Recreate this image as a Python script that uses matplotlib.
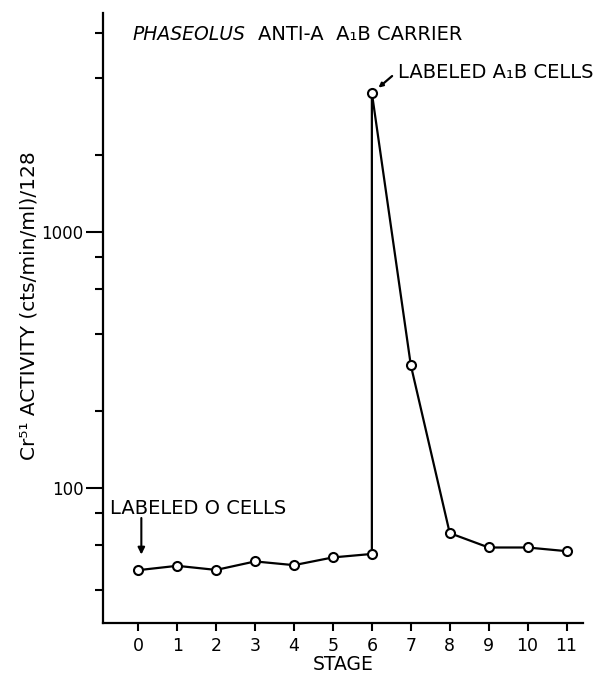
import matplotlib
matplotlib.use('Agg')
import matplotlib.pyplot as plt
from matplotlib.ticker import FixedLocator, NullFormatter, NullLocator

# Stage vs Cr51 activity (the A1B cells are added at stage 6, so 6 shows twice)
stages = [0, 1, 2, 3, 4, 5, 6, 6, 7, 8, 9, 10, 11]
activity = [47.8, 49.7, 47.9, 51.7, 50.0, 53.6, 55.3, 3490, 302, 66.7, 58.6, 58.6, 56.7]

x_ticks = list(range(12))
y_major = [100, 1000]
y_minor = [40, 60, 80, 200, 400, 600, 800, 2000, 4000, 6000]

plt.rcParams['font.family'] = ['DejaVu Sans']

fig = plt.figure(figsize=(5.93, 6.78), dpi=100)
ax = fig.add_axes([0.174, 0.081, 0.809, 0.9])

ax.plot(stages, activity, color='black', lw=1.6, marker='o', ms=6.5,
        mfc='white', mec='black', mew=1.5, zorder=3)

ax.set_yscale('log')
ax.set_xlim(-0.9, 11.42)
ax.set_ylim(29.7, 7170)

ax.spines['top'].set_visible(False)
ax.spines['right'].set_visible(False)
ax.spines['left'].set_linewidth(1.6)
ax.spines['bottom'].set_linewidth(1.6)

ax.set_xticks(x_ticks)
ax.set_xticklabels([str(s) for s in x_ticks], fontsize=12.5)
ax.yaxis.set_major_locator(FixedLocator(y_major))
ax.yaxis.set_minor_locator(FixedLocator(y_minor))
ax.set_yticklabels(['100', '1000'], fontsize=12)
ax.yaxis.set_minor_formatter(NullFormatter())
ax.xaxis.set_minor_locator(NullLocator())
ax.tick_params(axis='both', which='both', direction='out', length=6, width=1.5)
ax.tick_params(axis='y', which='major', length=12, pad=2)
ax.tick_params(axis='x', pad=4)

ax.set_xlabel('STAGE', fontsize=13.5, labelpad=0)
ax.set_ylabel('Cr\u2075\u00b9 ACTIVITY (cts/min/ml)/128', fontsize=14.5)
ax.yaxis.set_label_coords(-0.135, 0.52)

# title inside plot
ax.text(0.062, 0.965, 'PHASEOLUS', transform=ax.transAxes, fontsize=13.5,
        style='italic', ha='left', va='center')
ax.text(0.322, 0.965, 'ANTI-A  A\u2081B CARRIER', transform=ax.transAxes,
        fontsize=14, ha='left', va='center')

# annotations
ax.annotate('', xy=(6.17, 3660), xytext=(6.52, 4064),
            arrowprops=dict(arrowstyle='-|>', lw=1.6, color='black',
                            mutation_scale=6, shrinkA=0, shrinkB=0))
ax.text(6.68, 4178, 'LABELED A\u2081B CELLS', fontsize=14, ha='left', va='center')
ax.text(-0.72, 83.5, 'LABELED O CELLS', fontsize=14, ha='left', va='center')
ax.annotate('', xy=(0.08, 55), xytext=(0.08, 76.4),
            arrowprops=dict(arrowstyle='-|>', lw=1.5, color='black',
                            mutation_scale=10, shrinkA=0, shrinkB=0))

plt.savefig('out.png', dpi=100)
